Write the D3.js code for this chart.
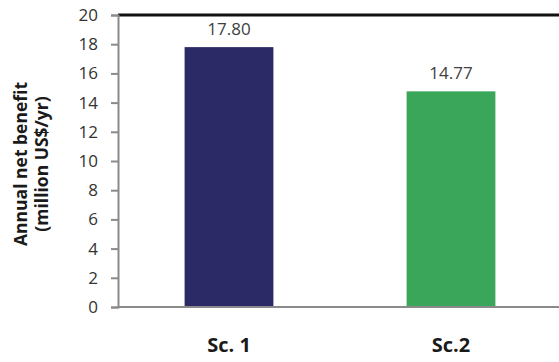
<script src='https://d3js.org/d3.v7.min.js'></script>
<style>body{margin:0;background:#fff;}</style>
<svg id='chart'></svg>
<script>
const categories=['Sc. 1','Sc.2'];
const values=[17.80,14.77];
const labels=['17.80','14.77'];
const yTicks=[0,2,4,6,8,10,12,14,16,18,20];
const colors=['#2b2a66','#3aa65a'];
const width=559,height=362;
const svg=d3.select('#chart').attr('width',width).attr('height',height);
const x=d3.scaleBand().domain(categories).range([118,562])
          .paddingInner(0.6).paddingOuter(0.3);
const y=d3.scaleLinear().domain([0,20]).range([307,15]);
// top border
svg.append('line').attr('x1',118).attr('x2',width).attr('y1',y(20)).attr('y2',y(20))
   .attr('stroke','#111').attr('stroke-width',3);
svg.selectAll('rect.bar').data(values).join('rect').attr('class','bar')
   .attr('x',(d,i)=>x(categories[i])).attr('width',x.bandwidth())
   .attr('y',d=>y(d)).attr('height',d=>y(0)-y(d))
   .attr('fill',(d,i)=>colors[i]);
svg.selectAll('text.val').data(values).join('text').attr('class','val')
   .attr('x',(d,i)=>x(categories[i])+x.bandwidth()/2).attr('y',d=>y(d)-12)
   .attr('text-anchor','middle').attr('font-family','Open Sans, sans-serif')
   .attr('font-size',17).attr('fill','#404040').text((d,i)=>labels[i]);
// y axis
const yAxis=svg.append('g').attr('transform','translate(118,0)')
   .call(d3.axisLeft(y).tickValues(yTicks).tickSize(7).tickPadding(13));
yAxis.select('.domain').attr('stroke','#8a8a8a').attr('stroke-width',2);
yAxis.selectAll('.tick line').attr('stroke','#8a8a8a').attr('stroke-width',2);
yAxis.selectAll('.tick text').attr('font-family','Open Sans, sans-serif')
   .attr('font-size',17).attr('fill','#333');
// x axis
const xAxis=svg.append('g').attr('transform','translate(0,307)')
   .call(d3.axisBottom(x).tickSize(0).tickPadding(31));
xAxis.select('.domain').attr('stroke','#8a8a8a').attr('stroke-width',2).attr('d','M118,0H'+width);
xAxis.selectAll('.tick text').attr('font-family','Open Sans, sans-serif')
   .attr('font-size',20).attr('font-weight','bold').attr('fill','#1a1a1a');
// y title
const t=svg.append('text').attr('transform','translate(27,164) rotate(-90)')
   .attr('text-anchor','middle').attr('font-family','Open Sans, sans-serif')
   .attr('font-size',17.5).attr('font-weight','bold').attr('fill','#1a1a1a');
t.append('tspan').attr('x',0).attr('y',0).text('Annual net benefit');
t.append('tspan').attr('x',0).attr('y',21).text('(million US$/yr)');
</script>
